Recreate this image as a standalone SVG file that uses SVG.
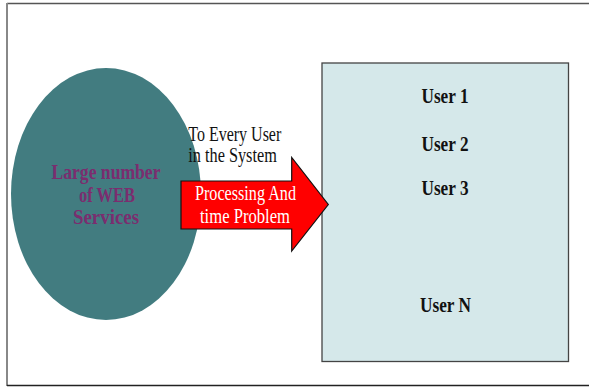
<svg xmlns="http://www.w3.org/2000/svg" width="589" height="387" viewBox="0 0 589 387">
<style>
.serif{font-family:"Liberation Serif","DejaVu Serif",serif}
.u{font-size:20px;font-weight:bold;fill:#111}
.w{font-size:20px;fill:#111}
.p{font-size:21px;fill:#fff}
.e{font-size:21px;font-weight:bold;fill:#7B2D6F}
</style>
<rect width="589" height="387" fill="#fff"/>
<g id="frame" fill="none">
<line x1="7" y1="3.5" x2="589" y2="3.5" stroke="#555" stroke-width="1.5"/>
<line x1="7" y1="3" x2="7" y2="386" stroke="#888" stroke-width="2"/>
<line x1="7" y1="385.5" x2="589" y2="385.5" stroke="#222" stroke-width="1.5"/>
</g>
<g id="services">
<ellipse cx="106" cy="194" rx="95" ry="126" fill="#427C80"/>
<text class="serif e" x="106" y="179" text-anchor="middle" textLength="109" lengthAdjust="spacingAndGlyphs">Large number</text>
<text class="serif e" x="107" y="201.5" text-anchor="middle" textLength="56" lengthAdjust="spacingAndGlyphs">of WEB</text>
<text class="serif e" x="106" y="224" text-anchor="middle" textLength="66" lengthAdjust="spacingAndGlyphs">Services</text>
</g>
<g id="users">
<rect x="322" y="63" width="246.5" height="298.5" fill="#D5E8EA" stroke="#444" stroke-width="1.3"/>
<text class="serif u" x="445" y="103.3" text-anchor="middle" textLength="47" lengthAdjust="spacingAndGlyphs">User 1</text>
<text class="serif u" x="445" y="150.5" text-anchor="middle" textLength="47" lengthAdjust="spacingAndGlyphs">User 2</text>
<text class="serif u" x="445" y="194.5" text-anchor="middle" textLength="47" lengthAdjust="spacingAndGlyphs">User 3</text>
<text class="serif u" x="445.5" y="312" text-anchor="middle" textLength="51" lengthAdjust="spacingAndGlyphs">User N</text>
</g>
<g id="connectors">
<g id="arrow">
<polygon points="181,181 291.7,181 291.7,157.5 328.3,204.5 291.7,251 291.7,229 181,229" fill="#FF0000" stroke="#111" stroke-width="1.2" stroke-linejoin="miter"/>
<text class="serif p" x="245.5" y="200" text-anchor="middle" textLength="101" lengthAdjust="spacingAndGlyphs">Processing And</text>
<text class="serif p" x="245" y="223.3" text-anchor="middle" textLength="90" lengthAdjust="spacingAndGlyphs">time Problem</text>
</g>
<text class="serif w" x="188.3" y="141" textLength="93" lengthAdjust="spacingAndGlyphs">To Every User</text>
<text class="serif w" x="188.3" y="161.7" textLength="88.5" lengthAdjust="spacingAndGlyphs">in the System</text>
</g>
</svg>
